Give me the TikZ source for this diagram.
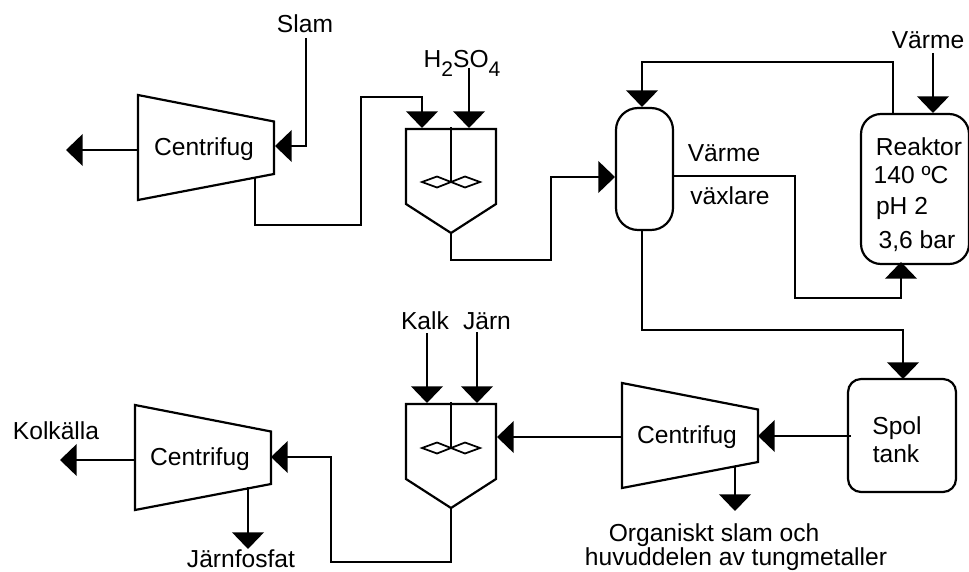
\documentclass[tikz,border=0pt]{standalone}
\usepackage{fontspec}
\setmainfont{Liberation Sans}
\usetikzlibrary{arrows.meta}
\tikzset{>={Triangle[length=9.5pt,width=18pt]}}
\tikzset{
  pipe/.style = {line width=1.25pt},
  label/.style = {anchor=base,inner sep=0pt,font=\fontsize{14}{16}\selectfont},
  vessel/.style = {draw,line width=1.25pt,inner sep=0pt},
  blade/.style = {draw,fill=white,line width=1pt},
  pics/centrifug/.style = {code={
    \draw[pipe] (0,0) -- (136,26.5) -- (136,79) -- (0,105) -- cycle;
  }},
  pics/mixer/.style = {code={
    \draw[pipe] (-45,0) -- (45,0) -- (45,75) -- (0,104) -- (-45,75) -- cycle;
    \draw[pipe] (0,-2) -- (0,#1);
    \draw[blade] (0,#1) -- (-14,#1-5.5) -- (-29,#1) -- (-14,#1+5.5) -- cycle;
    \draw[blade] (0,#1) -- (14,#1-5.5) -- (29,#1) -- (14,#1+5.5) -- cycle;
  }}
}

\begin{document}
\begin{tikzpicture}[x=0.02cm,y=-0.02cm]
  \useasboundingbox (0,0) rectangle (969,571);
  % equipment
  \pic at (138,95) {centrifug};
  \pic at (622,383) {centrifug};
  \pic at (135,405) {centrifug};
  \pic at (451,129) {mixer=53};
  \pic at (451,404) {mixer=44};
  \node[vessel,rounded corners=0.44cm,minimum width=1.14cm,minimum height=2.44cm] (hx) at (644.5,169) {};
  \node[vessel,rounded corners=0.4cm,minimum width=2.16cm,minimum height=3cm] (reaktor) at (915,189) {};
  \node[vessel,rounded corners=0.26cm,minimum width=2.16cm,minimum height=2.26cm] (spol) at (902,435.5) {};
  % ports
  \coordinate (cfAin) at (275,146);
  \coordinate (cfAout) at (138,150);
  \coordinate (cfAlow) at (255,177);
  \coordinate (cfBin) at (758,436);
  \coordinate (cfBout) at (622,437);
  \coordinate (cfBlow) at (735,466);
  \coordinate (cfCin) at (271,457);
  \coordinate (cfCout) at (135,460);
  \coordinate (cfClow) at (248,487);
  \coordinate (mixAl) at (422,128);
  \coordinate (mixAr) at (469,128);
  \coordinate (mixAlow) at (451,233);
  \coordinate (mixBl) at (427,403);
  \coordinate (mixBr) at (477,403);
  \coordinate (mixBin) at (497,437);
  \coordinate (mixBlow) at (451,508);
  \coordinate (hxin) at (615,177);
  \coordinate (hxtop) at (642,107);
  \coordinate (hxright) at (673,176);
  \coordinate (hxlow) at (642,230);
  \coordinate (retur) at (893,114);
  \coordinate (reaktorlow) at (901,262);
  \coordinate (reaktortop) at (933,113);
  \coordinate (spolin) at (903,379);
  \coordinate (spolout) at (851,436);
  % free ends
  \coordinate (slamend) at (306,38);
  \coordinate (syraend) at (469,68);
  \coordinate (varmeend) at (933,53);
  \coordinate (kalkend) at (427,333);
  \coordinate (jarnend) at (477,332);
  \coordinate (endA) at (66,150);
  \coordinate (endB) at (735,511);
  \coordinate (endC) at (60,460);
  \coordinate (endD) at (248,549);
  % pipes
  \draw[->,pipe] (cfAout) -- (endA);
  \draw[->,pipe] (slamend) |- (cfAin);
  \draw[->,pipe] (cfAlow) |- (361,225) -- (361,97) -| (mixAl);
  \draw[->,pipe] (syraend) -- (mixAr);
  \draw[->,pipe] (mixAlow) |- (551,260) |- (hxin);
  \draw[->,pipe] (retur) -- (893,62) -| (hxtop);
  \draw[->,pipe] (varmeend) -- (reaktortop);
  \draw[->,pipe] (hxright) -| (795,298) -| (reaktorlow);
  \draw[->,pipe] (hxlow) -- (642,330) -| (spolin);
  \draw[->,pipe] (spolout) -- (cfBin);
  \draw[->,pipe] (cfBlow) -- (endB);
  \draw[->,pipe] (cfBout) -- (mixBin);
  \draw[->,pipe] (kalkend) -- (mixBl);
  \draw[->,pipe] (jarnend) -- (mixBr);
  \draw[->,pipe] (mixBlow) |- (331,562) |- (cfCin);
  \draw[->,pipe] (cfCout) -- (endC);
  \draw[->,pipe] (cfClow) -- (endD);
  % texts
  \node[label] (slam) at (305,33) {Slam};
  \node[label] (syra) at (462,68) {H\raisebox{-5pt}{\fontsize{12}{14}\selectfont 2}SO\raisebox{-5pt}{\fontsize{12}{14}\selectfont 4}};
  \node[label] (cfAtext) at (204,155) {Centrifug};
  \node[label] (cfBtext) at (687,443) {Centrifug};
  \node[label] (cfCtext) at (200,465) {Centrifug};
  \node[label] (varme) at (928,49) {Värme};
  \node[label] (hxa) at (724,161) {Värme};
  \node[label] (hxb) at (730,204) {växlare};
  \node[label] (reaktora) at (919,155) {Reaktor};
  \node[label] (reaktorb) at (911,183) {140 ºC};
  \node[label] (reaktorc) at (902,214) {pH 2};
  \node[label] (reaktord) at (917,248) {3,6 bar};
  \node[label] (spola) at (897,434) {Spol};
  \node[label] (spolb) at (896,462) {tank};
  \node[label] (kalk) at (425,329) {Kalk};
  \node[label] (jarn) at (487,329) {Järn};
  \node[label] (kol) at (56,439) {Kolkälla};
  \node[label] (fosfat) at (241,567) {Järnfosfat};
  \node[label] (orga) at (714,541) {Organiskt slam och};
  \node[label] (orgb) at (736,565) {huvuddelen av tungmetaller};
\end{tikzpicture}
\end{document}
